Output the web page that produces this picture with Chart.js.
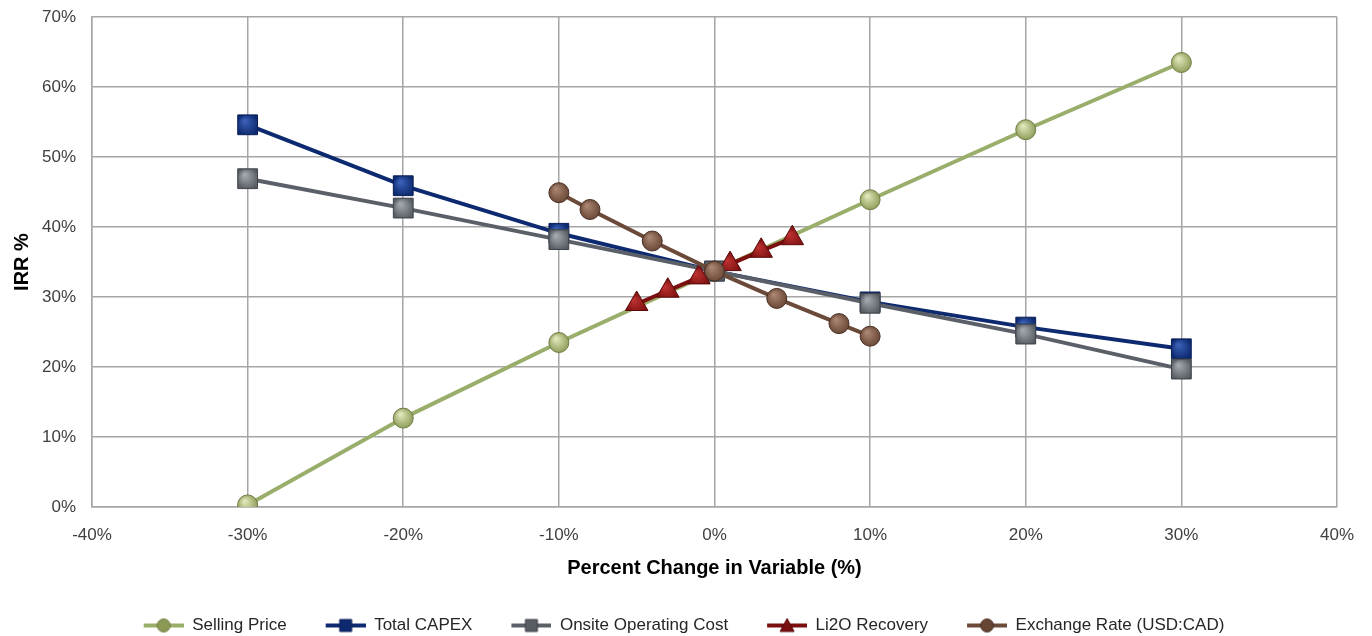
<!DOCTYPE html>
<html lang="en">
<head>
<meta charset="UTF-8">
<title>IRR Sensitivity</title>
<script src="https://cdn.jsdelivr.net/npm/chart.js"></script>
<style>
  * { margin: 0; padding: 0; box-sizing: border-box; }
  body { background: #fff; width: 1372px; height: 636px; overflow: hidden; }
  .wrap { position: relative; width: 1372px; height: 636px; }
</style>
</head>
<body>
<div class="wrap"><canvas id="irrChart"></canvas></div>
<script>
// data (percent units)
const changeStd = [-30, -20, -10, 0, 10, 20, 30];
const sellingPrice = [0.3, 12.7, 23.5, 33.7, 43.9, 53.9, 63.5];
const totalCapex = [54.6, 45.9, 39.1, 33.7, 29.3, 25.7, 22.6];
const onsiteCost = [46.9, 42.7, 38.2, 33.7, 29.1, 24.7, 19.7];
const li2oChange = [-5, -3, -1, 1, 3, 5];
const li2oRecovery = [29.0, 30.9, 32.8, 34.7, 36.6, 38.4];
const fxChange = [-10, -8, -4, 0, 4, 8, 10];
const exchangeRate = [44.9, 42.5, 38.0, 33.7, 29.8, 26.2, 24.4];
const seriesNames = ['Selling Price', 'Total CAPEX', 'Onsite Operating Cost', 'Li2O Recovery', 'Exchange Rate (USD:CAD)'];
const xTicks = [-40, -30, -20, -10, 0, 10, 20, 30, 40];

const FONT = "'Liberation Sans Narrow', 'Liberation Sans', Arial, sans-serif";

function pts(xs, ys) { return xs.map((x, i) => ({ x: x, y: ys[i] })); }

// shaded marker fill
function shade(light, dark) {
  return function (ctx) {
    const el = ctx.element;
    if (!el || el.x === undefined) return dark;
    const g = ctx.chart.ctx.createRadialGradient(el.x - 3, el.y - 4, 1, el.x, el.y, 11);
    g.addColorStop(0, light);
    g.addColorStop(1, dark);
    return g;
  };
}

const styles = [
  { line: '#9aae6b', border: '#6f7d45', light: '#dfe6b8', dark: '#8a9a55', shape: 'circle', r: 10 },
  { line: '#0d2a70', border: '#0a1f55', light: '#3a5fb5', dark: '#0d2a70', shape: 'rect', r: 14 },
  { line: '#5b6068', border: '#3e4248', light: '#a3a7ad', dark: '#585d64', shape: 'rect', r: 14 },
  { line: '#7b0f0f', border: '#5a0808', light: '#bb3030', dark: '#7b0f0f', shape: 'triangle', r: 13 },
  { line: '#6b4a3a', border: '#4a3024', light: '#a98470', dark: '#674534', shape: 'circle', r: 10 }
];

// legend swatch: line with marker in the middle (transparent lead-in for spacing)
function swatch(s) {
  const c = document.createElement('canvas');
  c.width = 70; c.height = 18;
  const g = c.getContext('2d');
  g.strokeStyle = s.line; g.lineWidth = 4;
  g.beginPath(); g.moveTo(30, 9); g.lineTo(70, 9); g.stroke();
  g.fillStyle = s.dark; g.strokeStyle = s.border; g.lineWidth = 1;
  g.beginPath();
  if (s.shape === 'circle') g.arc(50, 9, 6.5, 0, Math.PI * 2);
  else if (s.shape === 'rect') g.rect(44, 3, 12, 12);
  else { g.moveTo(50, 2); g.lineTo(57, 15); g.lineTo(43, 15); g.closePath(); }
  g.fill(); g.stroke();
  return c;
}

const dataSets = [
  pts(changeStd, sellingPrice),
  pts(changeStd, totalCapex),
  pts(changeStd, onsiteCost),
  pts(li2oChange, li2oRecovery),
  pts(fxChange, exchangeRate)
];

new Chart(document.getElementById('irrChart'), {
  type: 'line',
  data: {
    datasets: dataSets.map((d, i) => ({
      label: seriesNames[i],
      data: d,
      order: 5 - i,
      borderColor: styles[i].line,
      borderWidth: 4,
      tension: 0,
      fill: false,
      pointStyle: styles[i].shape,
      pointRadius: styles[i].r,
      pointHoverRadius: styles[i].r,
      pointBorderWidth: 1,
      pointBorderColor: styles[i].border,
      pointBackgroundColor: shade(styles[i].light, styles[i].dark)
    }))
  },
  options: {
    responsive: true,
    maintainAspectRatio: false,
    animation: false,
    layout: { padding: { top: 17, right: 34, left: 0, bottom: -8 } },
    scales: {
      x: {
        type: 'linear',
        min: -40, max: 40,
        afterBuildTicks: s => { s.ticks = xTicks.map(v => ({ value: v })); },
        afterFit: s => { s.height = 101; },
        grid: { color: '#a6a6a6', lineWidth: 1.5, drawTicks: false },
        border: { color: '#a6a6a6', width: 1.5 },
        ticks: {
          padding: 18,
          color: '#404040',
          font: { family: FONT, size: 17 },
          callback: v => v + '%'
        },
        title: {
          display: true,
          text: 'Percent Change in Variable (%)',
          color: '#000',
          padding: { top: 0, bottom: 28 },
          font: { family: FONT, size: 20, weight: 'bold' }
        }
      },
      y: {
        min: 0, max: 70,
        afterFit: s => { s.width = 92; s.paddingTop = 0; s.paddingBottom = 0; },
        grid: { color: '#a6a6a6', lineWidth: 1.5, drawTicks: false },
        border: { color: '#a6a6a6', width: 1.5 },
        ticks: {
          stepSize: 10,
          padding: 16,
          color: '#404040',
          font: { family: FONT, size: 17 },
          callback: v => v + '%'
        },
        title: {
          display: true,
          text: 'IRR %',
          color: '#000',
          padding: { top: 10, bottom: 0 },
          font: { family: FONT, size: 20, weight: 'bold' }
        }
      }
    },
    plugins: {
      legend: {
        position: 'bottom',
        labels: {
          usePointStyle: true,
          pointStyleWidth: 70,
          color: '#262626',
          padding: 9,
          font: { family: FONT, size: 17 },
          generateLabels: chart => chart.data.datasets.map((ds, i) => ({
            text: ds.label,
            pointStyle: swatch(styles[i]),
            fillStyle: styles[i].line,
            strokeStyle: styles[i].line,
            lineWidth: 0,
            datasetIndex: i,
            fontColor: '#262626',
            hidden: false
          }))
        }
      },
      tooltip: { enabled: false }
    }
  }
});
</script>
</body>
</html>
